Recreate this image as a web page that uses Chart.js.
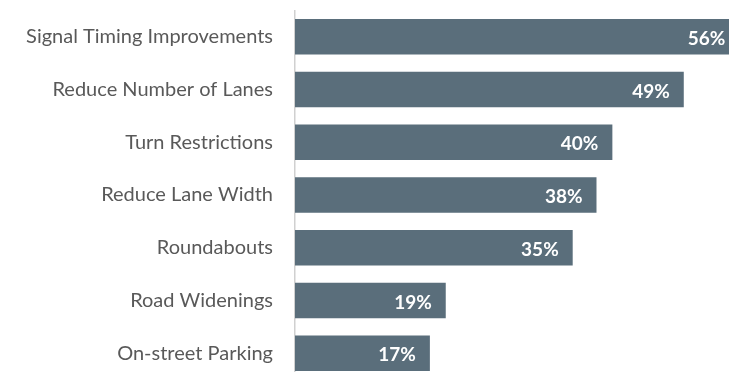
<!DOCTYPE html>
<html>
<head>
<meta charset="utf-8">
<script src="https://cdn.jsdelivr.net/npm/chart.js@4/dist/chart.umd.min.js"></script>
<style>
  html, body { margin: 0; padding: 0; background: #ffffff; overflow: hidden; }
  #wrap { position: absolute; left: 0; top: 0; width: 729px; height: 380px; }
</style>
</head>
<body>
<div id="wrap"><canvas id="chart"></canvas></div>
<script>
const categories = [
  'Signal Timing Improvements',
  'Reduce Number of Lanes',
  'Turn Restrictions',
  'Reduce Lane Width',
  'Roundabouts',
  'Road Widenings',
  'On-street Parking'
];
const shares = [56, 49, 40, 38, 35, 19, 17];
const axisMax = 54.7;

const barColor = '#5a6e7b';
const labelFont = 'Lato, "Open Sans", sans-serif';

// Bold percentage labels drawn inside the end of each bar
const valueLabels = {
  id: 'valueLabels',
  afterDatasetsDraw(chart) {
    const ctx = chart.ctx;
    const meta = chart.getDatasetMeta(0);
    ctx.save();
    ctx.fillStyle = '#ffffff';
    ctx.font = 'bold 19px ' + labelFont;
    ctx.textAlign = 'right';
    ctx.textBaseline = 'middle';
    meta.data.forEach((bar, i) => {
      ctx.fillText(shares[i] + '%', bar.x - 14, bar.y + 2);
    });
    ctx.restore();
  }
};

new Chart(document.getElementById('chart'), {
  type: 'bar',
  data: {
    labels: categories,
    datasets: [{
      data: shares,
      backgroundColor: barColor,
      borderWidth: 0,
      categoryPercentage: 1,
      barPercentage: 0.673
    }]
  },
  options: {
    indexAxis: 'y',
    responsive: true,
    maintainAspectRatio: false,
    animation: false,
    layout: { padding: { top: 10.5, bottom: 0.5, left: 0, right: 0 } },
    plugins: {
      legend: { display: false },
      tooltip: { enabled: false }
    },
    scales: {
      x: {
        display: false,
        min: 0,
        max: axisMax
      },
      y: {
        afterFit(scale) {
          scale.width = 295;
          scale.paddingTop = 0;
          scale.paddingBottom = 0;
        },
        grid: { display: false, drawTicks: false },
        border: { display: true, color: '#d0d0d0', width: 1.5 },
        ticks: {
          padding: 22,
          color: '#595959',
          font: { family: labelFont, size: 20 }
        }
      }
    }
  },
  plugins: [valueLabels]
});
</script>
</body>
</html>
